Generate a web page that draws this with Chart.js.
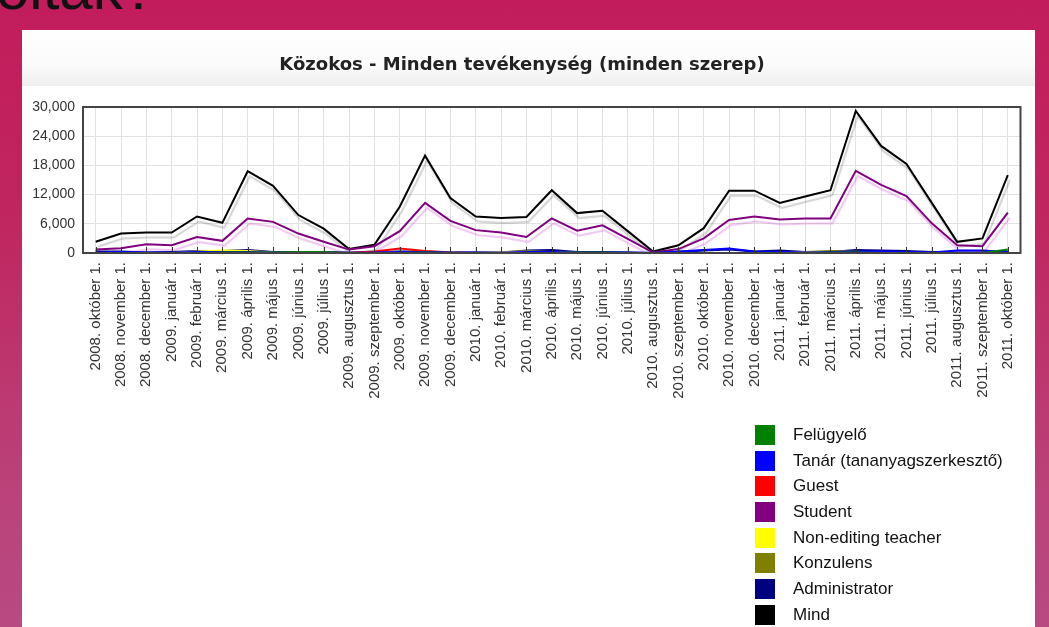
<!DOCTYPE html>
<html>
<head>
<meta charset="utf-8">
<script src="https://cdn.jsdelivr.net/npm/chart.js@4.4.0/dist/chart.umd.min.js"></script>
<style>
  html, body { margin: 0; padding: 0; }
  body {
    width: 1049px; height: 627px; overflow: hidden; position: relative;
    background: linear-gradient(to bottom, #c21c5c 0%, #c0265f 35%, #bb4078 75%, #b84a82 100%);
    font-family: "Liberation Sans", Arial, sans-serif;
  }
  #slideTitle {
    position: absolute; left: -4px; top: -43px;
    font-size: 60px; line-height: 64px; color: #111;
  }
  #panel {
    position: absolute; left: 22px; top: 30px; width: 1013px; height: 600px;
    background: #fff;
  }
  #titleBar {
    position: absolute; left: 0; top: 0; width: 100%; height: 56px;
    background: linear-gradient(to bottom, #ffffff 0%, #fbfbfb 60%, #f0f0f0 100%);
  }
  #chartBox { position: absolute; left: 0; top: 0; width: 1013px; height: 597px; }
  #legend {
    position: absolute; left: 733px; top: 392px; margin: 0; padding: 0; list-style: none;
  }
  #legend li { height: 25.7px; display: flex; align-items: center; font-size: 17px; color: #111; }
  #legend span.box { display: inline-block; width: 20px; height: 20px; margin-right: 18px; }
</style>
</head>
<body>
<div id="slideTitle">oltak?</div>
<div id="panel">
  <div id="titleBar"></div>
  <div id="chartBox"><canvas id="activityChart"></canvas></div>
  <ul id="legend"></ul>
</div>
<script>
// honapok (2008. oktober - 2011. oktober)
const months = [
  "2008. október 1.", "2008. november 1.", "2008. december 1.",
  "2009. január 1.", "2009. február 1.", "2009. március 1.", "2009. április 1.",
  "2009. május 1.", "2009. június 1.", "2009. július 1.", "2009. augusztus 1.",
  "2009. szeptember 1.", "2009. október 1.", "2009. november 1.", "2009. december 1.",
  "2010. január 1.", "2010. február 1.", "2010. március 1.", "2010. április 1.",
  "2010. május 1.", "2010. június 1.", "2010. július 1.", "2010. augusztus 1.",
  "2010. szeptember 1.", "2010. október 1.", "2010. november 1.", "2010. december 1.",
  "2011. január 1.", "2011. február 1.", "2011. március 1.", "2011. április 1.",
  "2011. május 1.", "2011. június 1.", "2011. július 1.", "2011. augusztus 1.",
  "2011. szeptember 1.", "2011. október 1."
];

const felugyelo  = [0, 0, 0, 0, 0, 100, 100, 100, 200, 200, 0, 0, 0, 100, 0, 0, 0, 0, 0, 100, 100, 0, 0, 0, 0, 0, 0, 0, 0, 100, 100, 0, 0, 0, 0, 0, 700];
const tanar      = [100, 200, 100, 100, 200, 200, 200, 100, 100, 100, 0, 100, 200, 200, 100, 100, 100, 200, 200, 100, 100, 100, 0, 300, 600, 900, 300, 200, 100, 200, 300, 300, 200, 100, 500, 500, 200];
const guest      = [0, 0, 0, 0, 0, 0, 0, 0, 0, 0, 0, 300, 900, 400, 100, 0, 0, 0, 0, 0, 0, 0, 0, 0, 0, 0, 0, 0, 0, 0, 0, 0, 0, 0, 0, 0, 0];
const student    = [700, 1000, 1800, 1600, 3300, 2500, 7100, 6400, 4000, 2300, 700, 1400, 4500, 10300, 6600, 4700, 4200, 3300, 7100, 4600, 5700, 2900, 100, 800, 3000, 6800, 7500, 6900, 7100, 7100, 16900, 14000, 11700, 6100, 1600, 1400, 8300];
const nonEditing = [0, 0, 0, 0, 300, 500, 400, 100, 0, 0, 0, 0, 200, 300, 100, 0, 200, 300, 200, 0, 0, 0, 0, 0, 0, 0, 0, 0, 100, 200, 100, 0, 0, 0, 0, 0, 0];
const konzulens  = [0, 0, 0, 0, 0, 0, 0, 0, 0, 0, 0, 0, 0, 0, 0, 0, 0, 0, 0, 0, 0, 0, 0, 0, 0, 0, 0, 0, 200, 400, 300, 0, 0, 0, 0, 0, 100];
const admin      = [300, 300, 100, 200, 400, 400, 600, 200, 200, 200, 100, 200, 300, 300, 100, 100, 100, 500, 600, 200, 200, 100, 0, 200, 500, 700, 300, 500, 200, 200, 600, 500, 400, 200, 100, 100, 300];
const mind       = [2300, 4000, 4200, 4200, 7500, 6200, 16800, 13800, 7800, 5000, 800, 1700, 9500, 20000, 11300, 7500, 7200, 7400, 12900, 8200, 8700, 4500, 300, 1600, 5100, 12800, 12800, 10300, 11600, 12900, 29200, 22000, 18300, 10300, 2300, 3000, 16000];

const yTicks = [0, 6000, 12000, 18000, 24000, 30000];

function serie(label, data, color, shadow) {
  return {
    label: label,
    data: data,
    borderColor: color,
    backgroundColor: color,
    borderWidth: 2,
    pointRadius: 0,
    tension: 0,
    fill: false,
    shadowColor: shadow
  };
}

// arnyek a vonalak alatt
const shadowPlugin = {
  id: 'lineShadow',
  beforeDatasetDraw(chart, args) {
    const ds = chart.data.datasets[args.index];
    const ctx = chart.ctx;
    ctx.save();
    ctx.shadowColor = ds.shadowColor || 'rgba(0,0,0,0.15)';
    ctx.shadowOffsetX = 2;
    ctx.shadowOffsetY = 5;
    ctx.shadowBlur = 1;
  },
  afterDatasetDraw(chart) {
    chart.ctx.restore();
  }
};

// keret + kis jelolok az alapvonalon
const framePlugin = {
  id: 'frame',
  afterDatasetsDraw(chart) {
    const ctx = chart.ctx;
    const a = chart.chartArea;
    const x = chart.scales.x;
    ctx.save();
    ctx.strokeStyle = '#333';
    ctx.lineWidth = 1;
    ctx.beginPath();
    for (let i = 0; i < months.length; i++) {
      const px = Math.round(x.getPixelForTick(i)) + 0.5;
      ctx.moveTo(px, a.bottom);
      ctx.lineTo(px, a.bottom - 6);
    }
    ctx.stroke();
    ctx.strokeStyle = '#444';
    ctx.lineWidth = 2;
    ctx.strokeRect(a.left, a.top, a.right - a.left, a.bottom - a.top);
    ctx.restore();
  }
};

const CHART = document.getElementById("activityChart");
let activityChart = new Chart(CHART, {
  type: 'line',
  data: {
    labels: months,
    datasets: [
      serie("Felügyelő", felugyelo, "#008000", 'rgba(0,128,0,0.2)'),
      serie("Tanár (tananyagszerkesztő)", tanar, "#0000ff", 'rgba(0,0,255,0.2)'),
      serie("Guest", guest, "#ff0000", 'rgba(255,0,0,0.2)'),
      serie("Student", student, "#800080", 'rgba(200,60,200,0.3)'),
      serie("Non-editing teacher", nonEditing, "#ffff00", 'rgba(200,200,0,0.3)'),
      serie("Konzulens", konzulens, "#808000", 'rgba(128,128,0,0.2)'),
      serie("Administrator", admin, "#000080", 'rgba(0,0,128,0.2)'),
      serie("Mind", mind, "#000000", 'rgba(0,0,0,0.18)')
    ]
  },
  options: {
    responsive: true,
    maintainAspectRatio: false,
    animation: false,
    layout: { padding: { left: 0, right: 13, top: 0, bottom: 174 } },
    plugins: {
      legend: { display: false },
      tooltip: { enabled: false },
      title: {
        display: true,
        text: "Közokos - Minden tevékenység (minden szerep)",
        color: '#222',
        font: { family: "DejaVu Sans", size: 18, weight: 'bold' },
        padding: { top: 25, bottom: 30.4 }
      }
    },
    scales: {
      x: {
        offset: true,
        grid: { color: '#e2e2e2', offset: false, drawTicks: false },
        border: { display: false },
        ticks: {
          autoSkip: false,
          minRotation: 90,
          maxRotation: 90,
          padding: 9,
          color: '#333',
          font: { family: "Liberation Sans", size: 15 }
        },
        afterFit(scale) { scale.height = 200; }
      },
      y: {
        min: 0,
        max: 30000,
        afterBuildTicks(scale) { scale.ticks = yTicks.map(v => ({ value: v })); },
        grid: { color: '#e2e2e2', drawTicks: false },
        border: { display: false },
        ticks: {
          padding: 8,
          color: '#333',
          font: { family: "Liberation Sans", size: 14 },
          callback: v => v.toLocaleString('en-US')
        },
        afterFit(scale) { scale.width = 61; }
      }
    }
  },
  plugins: [shadowPlugin, framePlugin]
});

// jelmagyarazat
const legendEl = document.getElementById("legend");
activityChart.data.datasets.forEach(ds => {
  const li = document.createElement("li");
  const box = document.createElement("span");
  box.className = "box";
  box.style.background = ds.borderColor;
  li.appendChild(box);
  li.appendChild(document.createTextNode(ds.label));
  legendEl.appendChild(li);
});
</script>
</body>
</html>
